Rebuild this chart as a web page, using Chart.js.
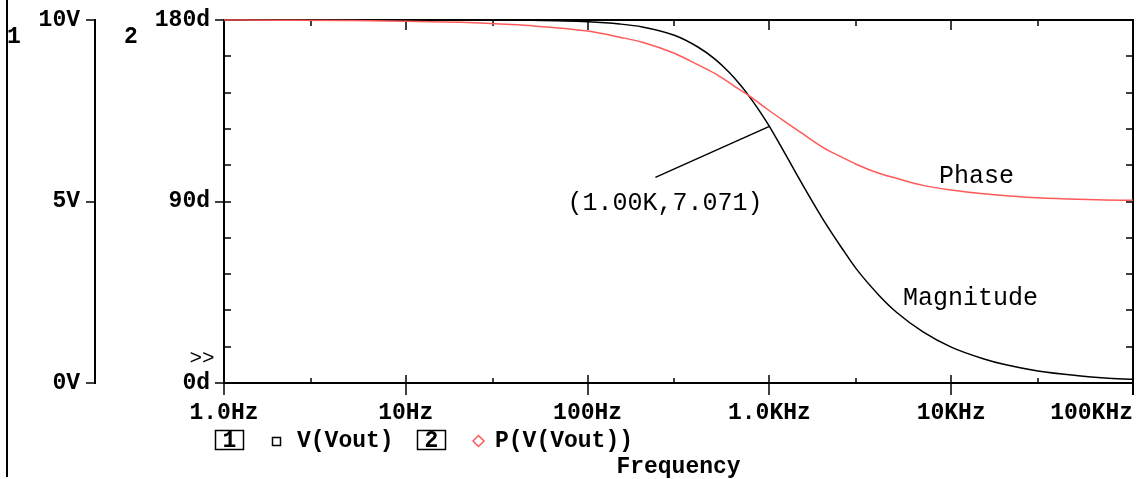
<!DOCTYPE html>
<html>
<head>
<meta charset="utf-8">
<script src="https://cdn.jsdelivr.net/npm/chart.js@4.4.1/dist/chart.umd.min.js"></script>
<style>
  html, body { margin: 0; padding: 0; background: #fff; }
  canvas { display: block; }
</style>
</head>
<body>
<canvas id="bodeChart" width="1142" height="479"></canvas>
<script>
// values
const freqHz = [1, 2, 5, 10, 20, 50, 100, 150, 200, 300, 400, 500, 600, 700, 800, 900, 1000,
  1200, 1500, 2000, 2500, 3000, 4000, 5000, 7000, 10000, 15000, 20000, 30000, 50000, 70000, 100000];
const magnitudeV = [10, 10, 10, 10, 10, 9.99, 9.95, 9.89, 9.81, 9.58, 9.27, 8.93, 8.56, 8.18, 7.8, 7.43, 7.07,
  6.38, 5.52, 4.46, 3.72, 3.15, 2.42, 1.95, 1.41, 0.99, 0.67, 0.5, 0.33, 0.2, 0.14, 0.1];
const phaseDeg = [180, 179.9, 179.7, 179.4, 178.9, 177.1, 174.5, 171.5, 169, 163.5, 158, 153.5, 149, 145, 141.5, 138, 135,
  130, 124, 116.5, 112, 108.5, 104, 101.5, 98, 95.7, 93.8, 92.9, 91.9, 91.1, 90.8, 90.6];

const xTickValues = [1, 10, 100, 1000, 10000, 100000];
const xTickLabels = ['1.0Hz', '10Hz', '100Hz', '1.0KHz', '10KHz', '100KHz'];
const xMinorTicks = [3, 30, 300, 3000, 30000];
const voltTicks = [0, 5, 10];
const degTicks = [0, 18, 36, 54, 72, 90, 108, 126, 144, 162, 180];

const cursorPoint = { freq: 1000, volts: 7.071, text: '(1.00K,7.071)' };
const traceLabels = [
  { text: 'Phase', freq: 8570, value: 99.2, axis: 'y2' },
  { text: 'Magnitude', freq: 5430, value: 2.15, axis: 'y1' }
];

const MONO = "'Liberation Mono', 'DejaVu Sans Mono', monospace";
const boldFont = { family: MONO, size: 23, weight: 'bold' };

function seg(ctx, x1, y1, x2, y2) {
  ctx.beginPath();
  ctx.moveTo(x1, y1);
  ctx.lineTo(x2, y2);
  ctx.stroke();
}

// keep the plot box where the probe window puts it
function noLabelMargins(s) {
  s.paddingLeft = 0;
  s.paddingRight = 0;
  s.paddingTop = 0;
  s.paddingBottom = 0;
}

// frame, tick marks and the probe-style texts
const probeFrame = {
  id: 'probeFrame',
  beforeDatasetsDraw(chart) {
    const { ctx, chartArea: a, scales: { x, y1, y2 } } = chart;
    ctx.save();
    ctx.strokeStyle = '#000';
    ctx.lineWidth = 2;
    ctx.beginPath();
    ctx.moveTo(a.left - 1, a.top);
    ctx.lineTo(a.right, a.top);
    ctx.lineTo(a.right, a.bottom + 12);
    ctx.stroke();
    ctx.lineWidth = 1.5;
    xTickValues.forEach(v => {
      const px = Math.round(x.getPixelForValue(v));
      seg(ctx, px, a.bottom - 8, px, a.bottom + 12);
      seg(ctx, px, a.top, px, a.top + 10);
    });
    xMinorTicks.forEach(v => {
      const px = Math.round(x.getPixelForValue(v));
      seg(ctx, px, a.bottom - 5, px, a.bottom);
      seg(ctx, px, a.top, px, a.top + 6);
    });
    degTicks.forEach(v => {
      const py = Math.round(y2.getPixelForValue(v));
      seg(ctx, a.left, py, a.left + 7, py);
      seg(ctx, a.right - 7, py, a.right, py);
      if (v % 90 === 0) seg(ctx, a.left - 9, py, a.left, py);
    });
    voltTicks.forEach(v => {
      const py = Math.round(y1.getPixelForValue(v));
      seg(ctx, y1.right - 9, py, y1.right, py);
    });
    ctx.restore();
  },
  afterDraw(chart) {
    const { ctx, scales } = chart;
    const { x, y1 } = scales;
    ctx.save();
    ctx.strokeStyle = '#000';
    ctx.fillStyle = '#000';

    // window edge on the far left
    ctx.lineWidth = 2;
    seg(ctx, 7, 0, 7, 477);

    // axis numbers
    ctx.font = 'bold 23px ' + MONO;
    ctx.textAlign = 'center';
    ctx.textBaseline = 'middle';
    ctx.fillText('1', 14, 37);
    ctx.fillText('2', 131, 37);

    ctx.font = '21px ' + MONO;
    ctx.fillText('>>', 202, 358);

    // cursor leader and coordinates
    const px = x.getPixelForValue(cursorPoint.freq);
    const py = y1.getPixelForValue(cursorPoint.volts);
    ctx.lineWidth = 1.5;
    seg(ctx, px, py, px - 114, py + 51);
    ctx.font = '25px ' + MONO;
    ctx.textAlign = 'left';
    ctx.textBaseline = 'alphabetic';
    ctx.fillText(cursorPoint.text, px - 202, py + 84);

    // trace names
    traceLabels.forEach(t => {
      ctx.fillText(t.text, x.getPixelForValue(t.freq), scales[t.axis].getPixelForValue(t.value));
    });

    // legend row
    ctx.font = 'bold 23px ' + MONO;
    ctx.textBaseline = 'middle';
    ctx.lineWidth = 1.5;
    ctx.strokeRect(215.5, 430.5, 28, 19);
    ctx.strokeRect(417.5, 430.5, 28, 19);
    ctx.textAlign = 'center';
    ctx.fillText('1', 229.5, 441);
    ctx.fillText('2', 431.5, 441);
    ctx.strokeRect(272.5, 437.5, 8, 8);
    ctx.textAlign = 'left';
    ctx.fillText('V(Vout)', 297, 441);
    ctx.fillText('P(V(Vout))', 495, 441);
    ctx.strokeStyle = '#ff5a5a';
    ctx.beginPath();
    ctx.moveTo(478.5, 435.5);
    ctx.lineTo(484, 441);
    ctx.lineTo(478.5, 446.5);
    ctx.lineTo(473, 441);
    ctx.closePath();
    ctx.stroke();
    ctx.restore();
  }
};

const ctx = document.getElementById('bodeChart').getContext('2d');
new Chart(ctx, {
  type: 'line',
  data: {
    datasets: [{
      label: 'V(Vout)',
      data: freqHz.map((f, i) => ({ x: f, y: magnitudeV[i] })),
      yAxisID: 'y1',
      borderColor: '#000',
      borderWidth: 1.5,
      pointRadius: 0,
      cubicInterpolationMode: 'monotone',
      order: 1
    }, {
      label: 'P(V(Vout))',
      data: freqHz.map((f, i) => ({ x: f, y: phaseDeg[i] })),
      yAxisID: 'y2',
      borderColor: '#ff5a5a',
      borderWidth: 1.5,
      pointRadius: 0,
      cubicInterpolationMode: 'monotone',
      order: 0
    }]
  },
  options: {
    responsive: false,
    animation: false,
    clip: false,
    layout: { padding: { left: 10, right: 9, top: 20, bottom: 0 } },
    plugins: { legend: { display: false }, tooltip: { enabled: false } },
    scales: {
      x: {
        type: 'logarithmic',
        position: 'bottom',
        min: 1,
        max: 100000,
        grid: { display: false, drawTicks: false },
        border: { display: true, color: '#000', width: 2 },
        afterBuildTicks: s => { s.ticks = xTickValues.map(v => ({ value: v })); },
        afterFit: s => { s.height = 96; noLabelMargins(s); },
        ticks: {
          autoSkip: false, maxRotation: 0, minRotation: 0,
          color: '#000', font: boldFont, padding: 16,
          callback: (v, i) => xTickLabels[i] + (i === xTickLabels.length - 1 ? '      ' : '')
        },
        title: {
          display: true, text: 'Frequency', color: '#000',
          font: { family: MONO, size: 23, weight: 'bold', lineHeight: 1 },
          padding: 0
        }
      },
      y1: {
        position: 'left',
        weight: 1,
        min: 0,
        max: 10,
        grid: { display: false, drawTicks: false },
        border: { display: true, color: '#000', width: 2 },
        afterBuildTicks: s => { s.ticks = voltTicks.map(v => ({ value: v })); },
        afterFit: s => { s.width = 85; noLabelMargins(s); },
        ticks: { color: '#000', font: boldFont, padding: 15, callback: v => v + 'V' }
      },
      y2: {
        position: 'left',
        weight: 0,
        min: 0,
        max: 180,
        grid: { display: false, drawTicks: false },
        border: { display: true, color: '#000', width: 2 },
        afterBuildTicks: s => { s.ticks = degTicks.map(v => ({ value: v })); },
        afterFit: s => { s.width = 129; noLabelMargins(s); },
        ticks: { color: '#000', font: boldFont, padding: 14, callback: v => (v % 90 === 0 ? v + 'd' : '') }
      }
    }
  },
  plugins: [probeFrame]
});
</script>
</body>
</html>
